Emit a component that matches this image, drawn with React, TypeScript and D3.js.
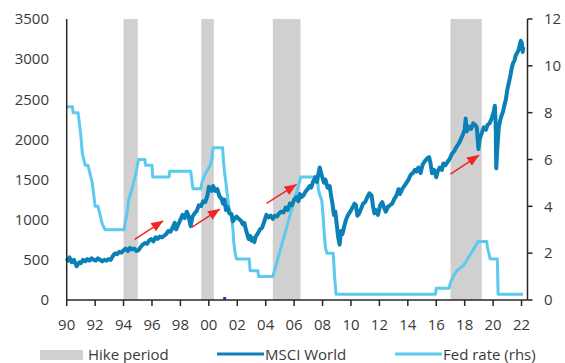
import React from "react";
import * as d3 from "d3";

const W = 565;
const H = 363;

const hikeStart = [1994.0, 1999.47, 2004.5, 2017.0];
const hikeEnd = [1995.0, 2000.35, 2006.45, 2019.2];

const msciYears = [
  1990.0, 1990.1, 1990.2, 1990.35, 1990.5, 1990.6, 1990.7, 1990.8, 1990.9, 1991.0,
  1991.15, 1991.3, 1991.45, 1991.6, 1991.75, 1991.9, 1992.05, 1992.2, 1992.35, 1992.5,
  1992.65, 1992.8, 1992.95, 1993.1, 1993.25, 1993.4, 1993.55, 1993.7, 1993.85, 1994.0,
  1994.15, 1994.3, 1994.45, 1994.6, 1994.75, 1994.9, 1995.05, 1995.2, 1995.35, 1995.5,
  1995.65, 1995.8, 1995.95, 1996.1, 1996.25, 1996.4, 1996.55, 1996.7, 1996.85, 1997.0,
  1997.15, 1997.3, 1997.45, 1997.6, 1997.7, 1997.85, 1998.0, 1998.15, 1998.3, 1998.45,
  1998.55, 1998.65, 1998.72, 1998.85, 1999.0, 1999.15, 1999.3, 1999.45, 1999.6, 1999.75,
  1999.9, 2000.0, 2000.1, 2000.2, 2000.3, 2000.45, 2000.6, 2000.75, 2000.9, 2001.0,
  2001.1, 2001.2, 2001.3, 2001.45, 2001.6, 2001.7, 2001.8, 2001.95, 2002.1, 2002.25,
  2002.4, 2002.5, 2002.6, 2002.7, 2002.8, 2002.9, 2003.0, 2003.1, 2003.2, 2003.3,
  2003.45, 2003.6, 2003.75, 2003.9, 2004.05, 2004.2, 2004.35, 2004.5, 2004.65, 2004.8,
  2004.95, 2005.1, 2005.25, 2005.4, 2005.55, 2005.7, 2005.85, 2006.0, 2006.15, 2006.3,
  2006.4, 2006.5, 2006.65, 2006.8, 2006.95, 2007.1, 2007.2, 2007.35, 2007.5, 2007.6,
  2007.7, 2007.8, 2007.9, 2008.0, 2008.1, 2008.2, 2008.35, 2008.5, 2008.6, 2008.7,
  2008.8, 2008.9, 2009.0, 2009.1, 2009.2, 2009.3, 2009.4, 2009.5, 2009.65, 2009.8,
  2009.95, 2010.1, 2010.25, 2010.35, 2010.45, 2010.55, 2010.7, 2010.85, 2011.0, 2011.15,
  2011.3, 2011.45, 2011.55, 2011.65, 2011.75, 2011.9, 2012.05, 2012.2, 2012.35, 2012.45,
  2012.6, 2012.75, 2012.9, 2013.05, 2013.2, 2013.35, 2013.45, 2013.6, 2013.75, 2013.9,
  2014.05, 2014.2, 2014.35, 2014.5, 2014.6, 2014.75, 2014.9, 2015.05, 2015.2, 2015.35,
  2015.5, 2015.6, 2015.7, 2015.85, 2016.0, 2016.1, 2016.25, 2016.4, 2016.5, 2016.65,
  2016.8, 2016.95, 2017.1, 2017.25, 2017.4, 2017.55, 2017.7, 2017.85, 2018.0, 2018.07,
  2018.15, 2018.3, 2018.45, 2018.6, 2018.75, 2018.85, 2018.97, 2019.05, 2019.2, 2019.35,
  2019.5, 2019.6, 2019.75, 2019.9, 2020.05, 2020.12, 2020.18, 2020.22, 2020.3, 2020.4,
  2020.5, 2020.6, 2020.7, 2020.8, 2020.9, 2021.0, 2021.1, 2021.2, 2021.3, 2021.4,
  2021.5, 2021.6, 2021.7, 2021.8, 2021.88, 2021.95, 2022.02, 2022.08, 2022.12,
];
const msciValues = [
  520, 490, 530, 470, 500, 460, 420, 450, 470, 460,
  500, 480, 510, 490, 520, 500, 490, 520, 500, 480,
  500, 490, 510, 500, 550, 580, 570, 600, 590, 620,
  640, 610, 650, 630, 640, 610, 620, 660, 690, 710,
  700, 740, 760, 730, 780, 760, 790, 780, 800, 820,
  860, 850, 900, 960, 880, 940, 1000, 1060, 1020, 1100,
  1060, 980, 920, 1040, 1080, 1110, 1180, 1170, 1230, 1220,
  1300, 1410, 1380, 1360, 1420, 1360, 1380, 1290, 1260, 1200,
  1250, 1120, 1160, 1080, 1070, 980, 1010, 1040, 1010, 990,
  940, 960, 880, 820, 760, 800, 740, 770, 720, 790,
  830, 880, 900, 980, 1060, 1030, 1050, 1010, 1050, 1040,
  1080, 1100, 1090, 1150, 1120, 1200, 1180, 1250, 1280, 1230,
  1320, 1280, 1300, 1350, 1380, 1420, 1400, 1480, 1530, 1470,
  1560, 1650, 1580, 1520, 1460, 1500, 1400, 1420, 1300, 1200,
  1060, 1100, 940, 780, 690, 860, 820, 900, 1000, 1060,
  1100, 1150, 1200, 1180, 1050, 1070, 1130, 1200, 1220, 1280,
  1330, 1300, 1170, 1080, 1120, 1060, 1180, 1220, 1140, 1100,
  1160, 1180, 1200, 1260, 1300, 1380, 1320, 1380, 1420, 1460,
  1500, 1560, 1580, 1620, 1600, 1650, 1580, 1690, 1730, 1760,
  1780, 1700, 1580, 1620, 1530, 1600, 1650, 1620, 1700, 1680,
  1720, 1760, 1820, 1850, 1900, 1940, 1990, 2050, 2120, 2260,
  2100, 2160, 2130, 2200, 2180, 2150, 1880, 2000, 2080, 2150,
  2120, 2180, 2200, 2260, 2350, 2420, 2200, 1640, 1900, 2150,
  2240, 2300, 2350, 2430, 2500, 2620, 2700, 2780, 2880, 2950,
  2980, 3050, 3080, 3120, 3180, 3230, 3200, 3090, 3150,
];

const fedYears = [
  1990.0, 1990.4, 1990.45, 1990.8, 1990.9, 1991.0, 1991.1, 1991.2, 1991.3, 1991.5,
  1991.6, 1991.7, 1991.8, 1991.9, 1992.0, 1992.2, 1992.3, 1992.5, 1992.7, 1994.05,
  1994.1, 1994.25, 1994.35, 1994.6, 1994.9, 1995.05, 1995.5, 1995.55, 1996.0, 1996.05,
  1997.2, 1997.25, 1998.72, 1998.78, 1998.88, 1999.45, 1999.5, 1999.65, 1999.85, 2000.1,
  2000.2, 2000.3, 2000.97, 2001.02, 2001.1, 2001.2, 2001.3, 2001.4, 2001.5, 2001.6,
  2001.7, 2001.75, 2001.85, 2001.95, 2002.85, 2002.9, 2003.45, 2003.5, 2004.5, 2006.47,
  2007.65, 2007.7, 2007.8, 2007.95, 2008.05, 2008.1, 2008.2, 2008.3, 2008.75, 2008.8,
  2008.85, 2008.95, 2015.95, 2016.0, 2016.9, 2017.0, 2017.2, 2017.45, 2017.95, 2018.2,
  2018.45, 2018.7, 2018.95, 2019.55, 2019.6, 2019.7, 2019.8, 2020.3, 2020.35, 2022.1,
];
const fedRates = [
  8.25, 8.25, 8.0, 8.0, 7.5, 7.0, 6.25, 6.0, 5.75, 5.75,
  5.5, 5.25, 5.0, 4.5, 4.0, 4.0, 3.75, 3.25, 3.0, 3.0,
  3.25, 3.75, 4.25, 4.75, 5.5, 6.0, 6.0, 5.75, 5.75, 5.25,
  5.25, 5.5, 5.5, 5.25, 4.75, 4.75, 5.0, 5.25, 5.5, 5.75,
  6.0, 6.5, 6.5, 6.0, 5.5, 5.0, 4.5, 4.0, 3.75, 3.5,
  3.0, 2.5, 2.0, 1.75, 1.75, 1.25, 1.25, 1.0, 1.0, 5.25,
  5.25, 4.75, 4.5, 4.25, 3.5, 3.0, 2.25, 2.0, 2.0, 1.5,
  1.0, 0.25, 0.25, 0.5, 0.5, 0.75, 1.0, 1.25, 1.5, 1.75,
  2.0, 2.25, 2.5, 2.5, 2.25, 2.0, 1.75, 1.75, 0.25, 0.25,
];

const leftTicks = [0, 500, 1000, 1500, 2000, 2500, 3000, 3500];
const rightTicks = [0, 2, 4, 6, 8, 10, 12];
const yearTicks = d3.range(1990, 2023, 2);

const arrowFromYear = [1994.78, 1998.79, 2004.06, 2017.0];
const arrowFromValue = [756, 905, 1204, 1569];
const arrowToYear = [1996.79, 2000.78, 2006.17, 2019.02];
const arrowToValue = [987, 1133, 1440, 1805];

const legendLabels = ["Hike period", "MSCI World", "Fed rate (rhs)"];

const COLORS = {
  hike: "#d0d0d0",
  msci: "#0a80b6",
  fed: "#5ccaf0",
  axis: "#262626",
  text: "#3a3a3a",
  arrow: "#f42525",
};

export default function App() {
  const x = d3.scaleLinear().domain([1990, 2022.42]).range([66.7, 527.5]);
  const yL = d3.scaleLinear().domain([0, 3500]).range([300, 19]);
  const yR = d3.scaleLinear().domain([0, 12]).range([300, 19]);

  const msciLine = d3
    .line<number>()
    .x((_, i) => x(msciYears[i]))
    .y((d) => yL(d));
  const fedLine = d3
    .line<number>()
    .x((_, i) => x(fedYears[i]))
    .y((d) => yR(d));

  const font = "'Open Sans', sans-serif";

  return (
    <svg
      width={W}
      height={H}
      style={{ position: "absolute", left: 0, top: 0, background: "#fff" }}
      fontFamily={font}
    >
      <defs>
        <marker
          id="ah"
          viewBox="0 0 12 10"
          refX={12}
          refY={5}
          markerWidth={12}
          markerHeight={10}
          markerUnits="userSpaceOnUse"
          orient="auto"
        >
          <path d="M0,0 L12,5 L0,10 Z" fill={COLORS.arrow} />
        </marker>
      </defs>

      {hikeStart.map((s, i) => (
        <rect
          key={"h" + i}
          x={x(s)}
          y={yL(3500)}
          width={x(hikeEnd[i]) - x(s)}
          height={yL(0) - yL(3500)}
          fill={COLORS.hike}
        />
      ))}

      <path d={fedLine(fedRates) || ""} fill="none" stroke={COLORS.fed} strokeWidth={3} strokeLinejoin="round" />
      <path d={msciLine(msciValues) || ""} fill="none" stroke={COLORS.msci} strokeWidth={4} strokeLinejoin="round" />

      {arrowFromYear.map((fy, i) => (
        <line
          key={"a" + i}
          x1={x(fy)}
          y1={yL(arrowFromValue[i])}
          x2={x(arrowToYear[i])}
          y2={yL(arrowToValue[i])}
          stroke={COLORS.arrow}
          strokeWidth={1.5}
          markerEnd="url(#ah)"
        />
      ))}

      <rect x={x(2001.08) - 1} y={297} width={3} height={3} fill="#2030ff" />

      {/* left axis */}
      <line x1={x(1990)} x2={x(1990)} y1={yL(3500)} y2={yL(0)} stroke={COLORS.axis} strokeWidth={1.5} />
      {leftTicks.map((t) => (
        <text key={"l" + t} x={49} y={yL(t)} dy="0.35em" textAnchor="end" fontSize={15} fill={COLORS.text}>
          {t}
        </text>
      ))}

      {/* right axis */}
      <line x1={x.range()[1]} x2={x.range()[1]} y1={yR(12)} y2={yR(0)} stroke={COLORS.axis} strokeWidth={1.5} />
      {rightTicks.map((t) => (
        <g key={"r" + t}>
          <line x1={x.range()[1]} x2={x.range()[1] + 5} y1={yR(t)} y2={yR(t)} stroke={COLORS.axis} strokeWidth={1.5} />
          <text x={544} y={yR(t)} dy="0.35em" textAnchor="start" fontSize={15} fill={COLORS.text}>
            {t}
          </text>
        </g>
      ))}

      {/* bottom axis */}
      <line x1={x(1990)} x2={x.range()[1]} y1={yL(0)} y2={yL(0)} stroke={COLORS.axis} strokeWidth={1.5} />
      {yearTicks.map((t) => (
        <g key={"b" + t}>
          <line x1={x(t)} x2={x(t)} y1={yL(0)} y2={yL(0) + 6} stroke={COLORS.axis} strokeWidth={1.5} />
          <text x={x(t)} y={325} dy="0.35em" textAnchor="middle" fontSize={15} fill={COLORS.text}>
            {String(t % 100).padStart(2, "0")}
          </text>
        </g>
      ))}

      {/* legend */}
      <rect x={40} y={350} width={43} height={10} fill={COLORS.hike} />
      <text x={88} y={355} dy="0.35em" fontSize={15} fill={COLORS.text}>
        {legendLabels[0]}
      </text>
      <line x1={217} x2={264} y1={354} y2={354} stroke={COLORS.msci} strokeWidth={3} />
      <text x={265} y={355} dy="0.35em" fontSize={15} fill={COLORS.text}>
        {legendLabels[1]}
      </text>
      <line x1={395} x2={442} y1={354} y2={354} stroke={COLORS.fed} strokeWidth={3} />
      <text x={443} y={355} dy="0.35em" fontSize={15} fill={COLORS.text}>
        {legendLabels[2]}
      </text>
    </svg>
  );
}
